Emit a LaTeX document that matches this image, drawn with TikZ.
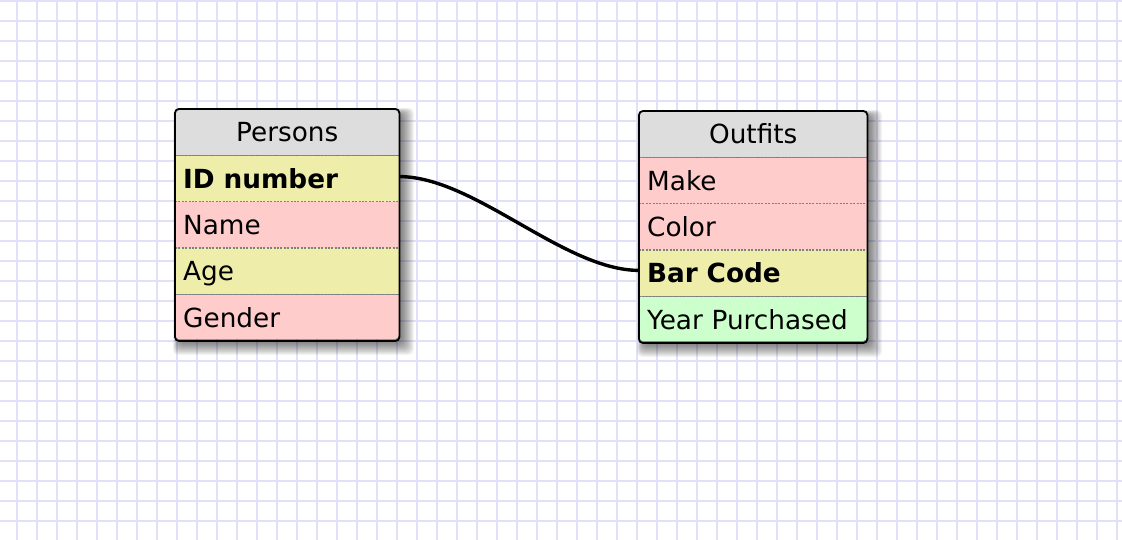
\documentclass[tikz,border=0pt]{standalone}
\usepackage{fontspec}
\setmainfont{DejaVu Sans}
\definecolor{gridc}{RGB}{224,224,248}
\definecolor{hdrc}{HTML}{DDDDDD}
\definecolor{numc}{HTML}{EEEEAA}
\definecolor{strc}{HTML}{FFCCCC}
\definecolor{datec}{HTML}{CCFFCC}
\definecolor{sepc}{HTML}{808080}
\tikzset{
  rowbox/.style={rectangle, anchor=north west, minimum height=46pt, inner ysep=0pt,
    inner xsep=8pt, text height=19pt, text depth=0pt, align=left,
    font=\fontsize{26.3}{31}\selectfont},
  prow/.style={rowbox, text width=208pt},
  orow/.style={rowbox, text width=212pt},
  hdrbox/.style={rectangle, anchor=north west, minimum height=46pt, inner sep=0pt,
    text height=19pt, text depth=0pt, fill=hdrc, font=\fontsize{26.3}{31}\selectfont},
  sepline/.style={sepc, line width=1.4pt, dash pattern=on 2pt off 1.4pt},
  keyline/.style={sepc, line width=1.5pt},
  border/.style={black, line width=1.8pt, rounded corners=4pt},
  shadowlayer/.style={fill=black, opacity=0.045, rounded corners=5pt},
  relation/.style={black, line width=3.4pt}
}
\begin{document}
\begin{tikzpicture}[x=1pt,y=-1pt]
\useasboundingbox (0,0) rectangle (1122,540);
\fill[white] (0,0) rectangle (1122,540);
% grid
\foreach \gx in {0,...,55} \draw[gridc, line width=2pt] (17+20*\gx,0) -- (17+20*\gx,540);
\foreach \gy in {0,...,26} \draw[gridc, line width=2pt] (0,1+20*\gy) -- (1122,1+20*\gy);
% shadows
\foreach \i in {0,...,12} {
  \fill[shadowlayer] (179-\i/2,114-\i/2) rectangle (402+\i,343+\i);
  \fill[shadowlayer] (643-\i/2,116-\i/2) rectangle (870+\i,345+\i);
}
% Persons table
\begin{scope}
  \clip[rounded corners=4pt] (175,109) rectangle (399,339);
  \node[hdrbox, minimum width=224pt] (pHead) at (175,109) {Persons};
  \node[prow, fill=numc, font=\fontsize{26.3}{31}\selectfont\bfseries] (pID) at (pHead.south west) {ID number};
  \node[prow, fill=strc] (pName) at (pID.south west) {Name};
  \node[prow, fill=numc] (pAge) at (pName.south west) {Age};
  \node[prow, fill=strc] (pGender) at (pAge.south west) {Gender};
\end{scope}
\draw[sepline] (pHead.south west) -- (pHead.south east);
\draw[keyline] ([xshift=-19pt]pHead.south east) -- (pHead.south east);
\draw[sepline] (pID.south west) -- (pID.south east);
\draw[sepline] (pName.south west) -- (pName.south east);
\draw[sepline] (pAge.south west) -- (pAge.south east);
\draw[border] (pHead.north west) rectangle (pGender.south east);
% Outfits table
\begin{scope}
  \clip[rounded corners=4pt] (639,111) rectangle (867,341);
  \node[hdrbox, minimum width=228pt] (oHead) at (639,111) {Outfits};
  \node[orow, fill=strc] (oMake) at (oHead.south west) {Make};
  \node[orow, fill=strc] (oColor) at (oMake.south west) {Color};
  \node[orow, fill=numc, font=\fontsize{26.3}{31}\selectfont\bfseries] (oBar) at (oColor.south west) {Bar Code};
  \node[orow, fill=datec] (oYear) at (oBar.south west) {Year Purchased};
\end{scope}
\draw[sepline] (oHead.south west) -- (oHead.south east);
\draw[keyline] ([xshift=-16pt]oHead.south east) -- (oHead.south east);
\draw[sepline] (oMake.south west) -- (oMake.south east);
\draw[sepline] (oColor.south west) -- (oColor.south east);
\draw[sepline] (oBar.south west) -- (oBar.south east);
\draw[border] (oHead.north west) rectangle (oYear.south east);
% relation
\draw[relation] ([yshift=2pt]pID.east) .. controls +(75,0) and +(-75,0) .. ([yshift=3pt]oBar.west);
\end{tikzpicture}
\end{document}
